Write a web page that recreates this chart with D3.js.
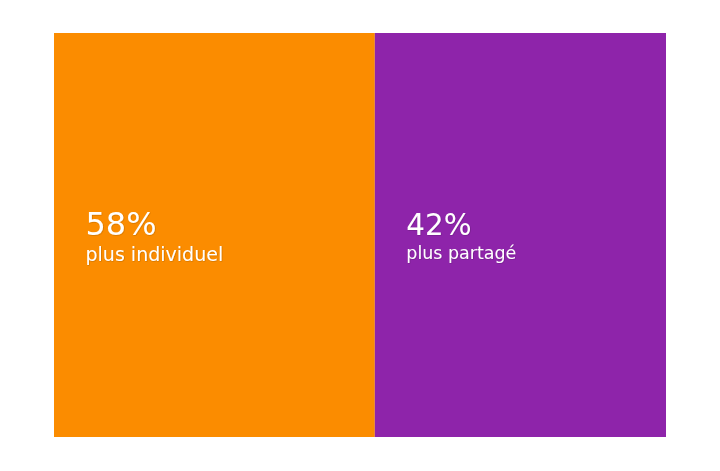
<!DOCTYPE html>
<html>
<head>
<meta charset="utf-8">
<script src="https://cdn.jsdelivr.net/npm/d3@7"></script>
<style>
  body { margin: 0; background: #fff; }
  text { font-family: "DejaVu Sans", sans-serif; fill: #fff; }
</style>
</head>
<body>
<div id="chart"></div>
<script>
var labels = ["plus individuel", "plus partagé"];
var values = [58, 42];
var colors = ["#fb8c00", "#8e24aa"];

var width = 720,
    height = 471,
    margin = {top: 33, right: 54, bottom: 34, left: 54};

var svg = d3.select("#chart")
  .append("svg")
    .attr("width", width)
    .attr("height", height);

var defs = svg.append("defs");
var shadow = defs.append("filter").attr("id", "shadow")
    .attr("x", "-10%").attr("y", "-20%").attr("width", "120%").attr("height", "140%");
shadow.append("feDropShadow")
    .attr("dx", 0.5).attr("dy", 0.5).attr("stdDeviation", 0.7)
    .attr("flood-color", "#000").attr("flood-opacity", 0.25);

// box widths grow with the value but flattened (like the original layout)
var weight = d3.scalePow().exponent(0.3).domain([0, 100]).range([0, 1]);
var data = values.map(function(v, i) {
  return {label: labels[i], value: v, color: colors[i], w: weight(v)};
});
var total = d3.sum(data, function(d) { return d.w; });
var acc = 0;
data.forEach(function(d) { d.x0 = acc; acc += d.w; d.x1 = acc; });

var x = d3.scaleLinear()
    .domain([0, total])
    .range([margin.left, width - margin.right]);

var y0 = margin.top,
    y1 = height - margin.bottom;

var pad = 31.5;

var cell = svg.append("g")
  .selectAll("g")
  .data(data)
  .enter()
  .append("g");

cell.append("rect")
    .attr("x", function(d) { return x(d.x0); })
    .attr("y", y0)
    .attr("width", function(d) { return x(d.x1) - x(d.x0); })
    .attr("height", y1 - y0)
    .attr("fill", function(d) { return d.color; });

cell.each(function(d) {
  var w = x(d.x1) - x(d.x0);
  var fs = 4 + w * 0.0872;
  var g = d3.select(this).append("g").attr("filter", "url(#shadow)");
  g.append("text")
      .attr("x", x(d.x0) + pad)
      .attr("y", (y0 + y1) / 2)
      .style("font-size", fs + "px")
      .text(d.value + "%");
  g.append("text")
      .attr("x", x(d.x0) + pad)
      .attr("y", (y0 + y1) / 2 + fs * 0.8)
      .style("font-size", (fs * 0.595) + "px")
      .text(d.label);
});
</script>
</body>
</html>
